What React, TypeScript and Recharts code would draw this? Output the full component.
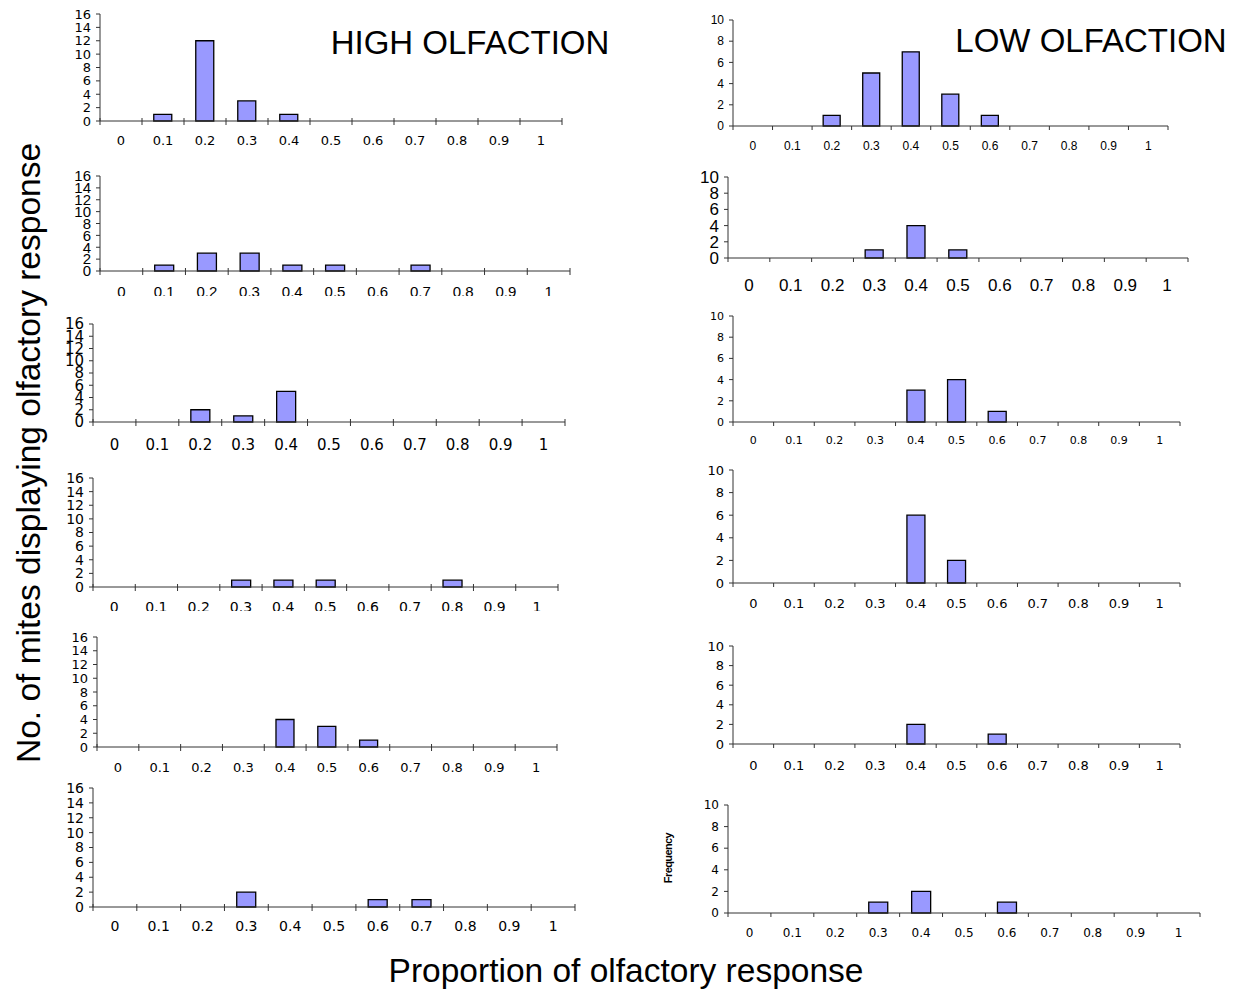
import React from 'react';
import { BarChart, Bar, XAxis, YAxis } from 'recharts';

const bins = ['0', '0.1', '0.2', '0.3', '0.4', '0.5', '0.6', '0.7', '0.8', '0.9', '1'];

// high olfaction panels (top to bottom)
const high1 = [0, 1, 12, 3, 1, 0, 0, 0, 0, 0, 0];
const high2 = [0, 1, 3, 3, 1, 1, 0, 1, 0, 0, 0];
const high3 = [0, 0, 2, 1, 5, 0, 0, 0, 0, 0, 0];
const high4 = [0, 0, 0, 1, 1, 1, 0, 0, 1, 0, 0];
const high5 = [0, 0, 0, 0, 4, 3, 1, 0, 0, 0, 0];
const high6 = [0, 0, 0, 2, 0, 0, 1, 1, 0, 0, 0];

// low olfaction panels
const low1 = [0, 0, 1, 5, 7, 3, 1, 0, 0, 0, 0];
const low2 = [0, 0, 0, 1, 4, 1, 0, 0, 0, 0, 0];
const low3 = [0, 0, 0, 0, 3, 4, 1, 0, 0, 0, 0];
const low4 = [0, 0, 0, 0, 6, 2, 0, 0, 0, 0, 0];
const low5 = [0, 0, 0, 0, 2, 0, 1, 0, 0, 0, 0];
const low6 = [0, 0, 0, 1, 2, 0, 1, 0, 0, 0, 0];

const highTicks = [0, 2, 4, 6, 8, 10, 12, 14, 16];
const lowTicks = [0, 2, 4, 6, 8, 10];

const FONT = '"Liberation Sans", Arial, Helvetica, sans-serif';
const WIDE = '"DejaVu Sans", "Liberation Sans", sans-serif';
const W = 46;
const TOP = 8;

type Panel = {
  values: number[];
  ticks: number[];
  max: number;
  axisX: number;
  top: number;
  bottom: number;
  right: number;
  fs: number;
  labOff: number;
  clip?: number;
  cross?: boolean;
  font: string;
};

const panels: Panel[] = [
  { values: high1, ticks: highTicks, max: 16, axisX: 100, top: 14, bottom: 121, right: 562, fs: 13, labOff: 19, cross: true, font: WIDE },
  { values: high2, ticks: highTicks, max: 16, axisX: 100, top: 176, bottom: 271, right: 570, fs: 15, labOff: 20, clip: 296, cross: true, font: FONT },
  { values: high3, ticks: highTicks, max: 16, axisX: 93, top: 324, bottom: 422, right: 565, fs: 15, labOff: 23, cross: true, font: WIDE },
  { values: high4, ticks: highTicks, max: 16, axisX: 93, top: 478, bottom: 587, right: 558, fs: 14, labOff: 20, clip: 611, cross: true, font: WIDE },
  { values: high5, ticks: highTicks, max: 16, axisX: 97, top: 637, bottom: 747, right: 557, fs: 13, labOff: 20, cross: true, font: WIDE },
  { values: high6, ticks: highTicks, max: 16, axisX: 93, top: 788, bottom: 907, right: 575, fs: 14, labOff: 19, cross: true, font: WIDE },
  { values: low1, ticks: lowTicks, max: 10, axisX: 733, top: 20, bottom: 126, right: 1168, fs: 12, labOff: 20, font: FONT },
  { values: low2, ticks: lowTicks, max: 10, axisX: 728, top: 177, bottom: 258, right: 1188, fs: 17, labOff: 27, font: FONT },
  { values: low3, ticks: lowTicks, max: 10, axisX: 733, top: 316, bottom: 422, right: 1180, fs: 11, labOff: 18, font: WIDE },
  { values: low4, ticks: lowTicks, max: 10, axisX: 733, top: 470, bottom: 583, right: 1180, fs: 13, labOff: 20, font: WIDE },
  { values: low5, ticks: lowTicks, max: 10, axisX: 733, top: 646, bottom: 744, right: 1180, fs: 13, labOff: 21, font: WIDE },
  { values: low6, ticks: lowTicks, max: 10, axisX: 728, top: 805, bottom: 913, right: 1200, fs: 12, labOff: 20, font: WIDE },
];

function MiniHist({ p }: { p: Panel }) {
  const plotW = p.right - p.axisX;
  const plotH = p.bottom - p.top;
  const bw = plotW / bins.length;
  const axisY = TOP + plotH;
  const width = W + plotW + 12;
  const height = TOP + plotH + p.labOff + p.fs + 10;
  const data = bins.map((b, i) => ({ bin: b, v: p.values[i] }));
  const left = p.axisX - W;
  const top = p.top - TOP;

  const renderTick = (props: any) => {
    const { x, payload, index } = props;
    const last = index === bins.length - 1;
    const y1 = p.cross ? axisY - 3 : axisY;
    return (
      <g>
        <line x1={x - bw / 2} x2={x - bw / 2} y1={y1} y2={axisY + 4} stroke="#333" />
        {last && <line x1={x + bw / 2} x2={x + bw / 2} y1={y1} y2={axisY + 4} stroke="#333" />}
        <text x={x} y={axisY + p.labOff} textAnchor="middle" dominantBaseline="central" fontSize={p.fs} fontFamily={p.font} fill="#000">
          {payload.value}
        </text>
      </g>
    );
  };

  return (
    <div
      style={{
        position: 'absolute',
        left,
        top,
        width,
        height: p.clip ? p.clip - top : height,
        overflow: 'hidden',
      }}
    >
      <BarChart width={width} height={height} data={data} margin={{ top: TOP, right: 12, left: 0, bottom: 0 }} barCategoryGap="28%">
        <XAxis
          dataKey="bin"
          interval={0}
          tickLine={false}
          axisLine={{ stroke: '#333' }}
          tick={renderTick}
          height={height - TOP - plotH}
        />
        <YAxis
          width={W}
          domain={[0, p.max]}
          ticks={p.ticks}
          interval={0}
          tickSize={4}
          tickMargin={5}
          axisLine={{ stroke: '#333' }}
          tickLine={{ stroke: '#333' }}
          tick={{ fontSize: p.fs, fontFamily: p.font, fill: '#000' }}
        />
        <Bar dataKey="v" fill="#9999FF" stroke="#000" strokeWidth={1.3} isAnimationActive={false} />
      </BarChart>
    </div>
  );
}

export default function App() {
  return (
    <div style={{ position: 'absolute', left: 0, top: 0, width: 1240, height: 991, background: '#fff', fontFamily: FONT }}>
      {panels.map((p, i) => (
        <MiniHist key={i} p={p} />
      ))}
      <svg width={1240} height={991} style={{ position: 'absolute', left: 0, top: 0, pointerEvents: 'none' }}>
        <text x={470} y={42} textAnchor="middle" dominantBaseline="central" fontSize={33} fontFamily={FONT}>
          HIGH OLFACTION
        </text>
        <text x={1091} y={40} textAnchor="middle" dominantBaseline="central" fontSize={33} fontFamily={FONT}>
          LOW OLFACTION
        </text>
        <text
          x={28}
          y={453}
          transform="rotate(-90 28 453)"
          textAnchor="middle"
          dominantBaseline="central"
          fontSize={33.5}
          fontFamily={FONT}
        >
          No. of mites displaying olfactory response
        </text>
        <text x={626} y={970} textAnchor="middle" dominantBaseline="central" fontSize={33.5} fontFamily={FONT}>
          Proportion of olfactory response
        </text>
        <text
          x={668}
          y={858}
          transform="rotate(-90 668 858)"
          textAnchor="middle"
          dominantBaseline="central"
          fontSize={11}
          fontWeight="bold"
          fontFamily={FONT}
          letterSpacing={-0.6}
        >
          Frequency
        </text>
      </svg>
    </div>
  );
}
